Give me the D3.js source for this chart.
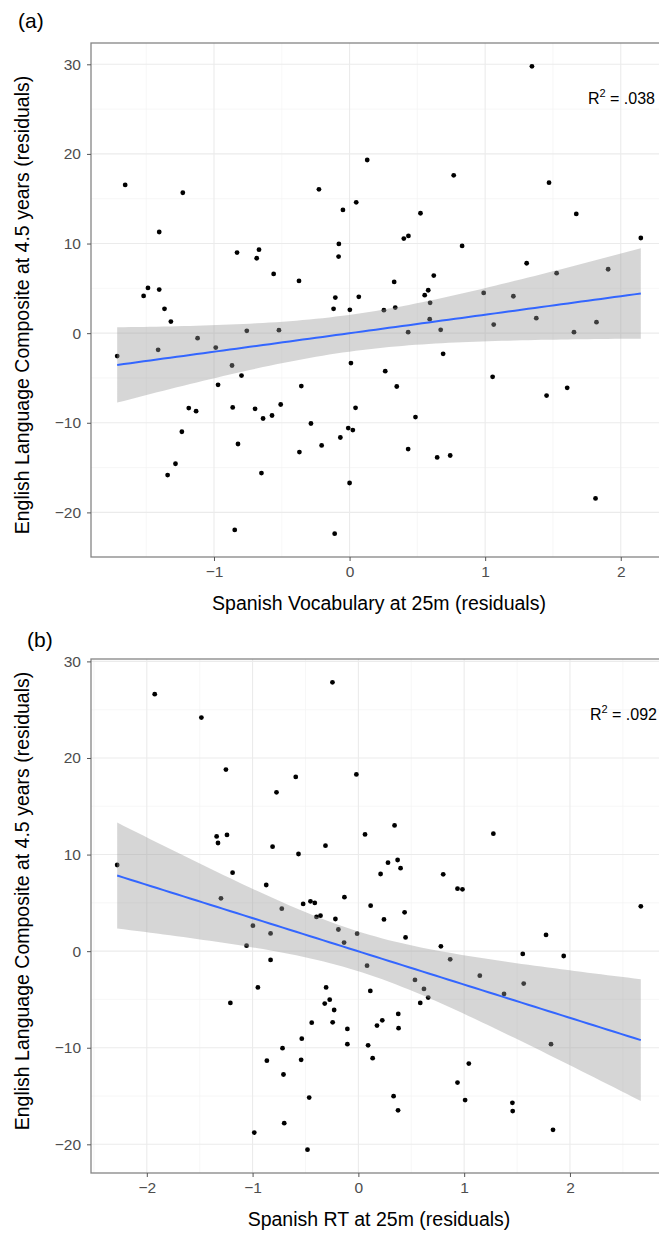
<!DOCTYPE html>
<html lang="en">
<head>
<meta charset="utf-8">
<title>Residual scatterplots</title>
<script src="https://cdn.jsdelivr.net/npm/d3@7"></script>
<style>
body { margin: 0; background: #fff; }
svg { display: block; font-family: "Liberation Sans", Arial, sans-serif; }
.grid-major { stroke: #ebebeb; stroke-width: 1.1; }
.grid-minor { stroke: #f3f3f3; stroke-width: 0.7; }
.axis text { fill: #4d4d4d; font-size: 15.5px; }
.axis line { stroke: #555; }
.axis path { display: none; }
.title { font-size: 19.5px; fill: #000; }
</style>
</head>
<body>
<script>
// panel (a): Spanish vocabulary residuals vs English composite residuals
var vocabX = [-1.655, -1.230, -1.404, -0.830, -0.668, -0.685, -0.560, -0.373, -0.226, -1.487,
    -1.404, -1.519, 1.345, 0.130, 0.768, 1.471, 0.049, -0.049, 0.523, 1.672,
    0.400, 0.434, -0.079, 0.830, 2.148, -0.081, 0.329, 0.621, 1.306, 1.527,
    1.907, 0.580, 0.554, 0.989, 1.208, -0.105, 0.068, -1.365, -1.318, -1.714,
    -1.412, -1.121, -0.987, -0.758, -0.521, -0.867, -0.797, -0.970, -0.356, -1.186,
    -1.132, -0.862, -0.697, -0.638, -0.572, -0.508, -0.285, -1.237, -0.823, -1.284,
    -1.342, -0.650, -0.370, -0.206, -0.847, -0.118, 0.002, 0.253, 0.337, 0.594,
    0.591, 0.432, 0.672, 1.063, 1.377, 1.655, 1.821, 0.690, 0.010, 0.263,
    0.348, 1.055, 1.453, 1.605, 0.044, 0.486, -0.010, 0.024, -0.068, 0.432,
    0.646, 0.742, 0.000, 1.814, -0.110];
var vocabY = [16.54, 15.67, 11.29, 8.99, 9.32, 8.36, 6.61, 5.83, 16.05, 5.05,
    4.86, 4.16, 29.77, 19.32, 17.61, 16.79, 14.60, 13.75, 13.38, 13.30,
    10.55, 10.85, 9.96, 9.73, 10.62, 8.54, 5.72, 6.42, 7.80, 6.69,
    7.13, 4.79, 4.24, 4.49, 4.12, 3.97, 4.05, 2.71, 1.29, -2.56,
    -1.86, -0.56, -1.61, 0.26, 0.33, -3.61, -4.73, -5.76, -5.91, -8.36,
    -8.70, -8.29, -8.44, -9.52, -9.19, -7.96, -10.08, -11.00, -12.37, -14.57,
    -15.83, -15.61, -13.27, -12.53, -21.96, 2.71, 2.60, 2.56, 2.85, 3.38,
    1.56, 0.11, 0.37, 0.96, 1.67, 0.11, 1.23, -2.31, -3.34, -4.24,
    -5.95, -4.87, -6.96, -6.10, -8.33, -9.36, -10.59, -10.81, -11.64, -12.93,
    -13.87, -13.65, -16.72, -18.44, -22.37];

// panel (b): Spanish RT residuals vs English composite residuals
var rtX = [-1.925, -1.484, -1.252, -0.592, -0.774, -1.340, -1.327, -1.242, -0.811, -0.566,
    -0.311, -2.280, -1.189, -0.871, -1.299, -0.522, -0.453, -0.412, -0.724, -0.245,
    -0.019, 0.342, 0.063, 1.276, 0.280, 0.371, 0.399, 0.210, 0.802, 0.937,
    0.984, -0.132, 0.116, 2.670, -0.997, -0.830, -0.396, -0.358, -1.057, -0.830,
    -0.950, -1.210, -0.305, -0.318, -0.271, -0.441, -0.535, -0.717, -0.865, -0.541,
    -0.708, -0.465, -0.701, -0.984, -0.481, -0.217, 0.242, 0.437, -0.189, -0.012,
    -0.135, 0.446, 0.082, 0.780, 0.868, 1.774, 1.554, 1.941, 1.148, 0.535,
    0.620, 0.660, 0.585, 1.377, 1.563, 0.113, -0.229, -0.243, -0.104, -0.104,
    0.377, 0.226, 0.176, 0.380, 0.092, 0.135, 1.821, 1.044, 0.937, 0.333,
    0.375, 1.009, 1.456, 1.459, 1.840];
var rtY = [26.61, 24.18, 18.80, 18.04, 16.44, 11.88, 11.20, 12.03, 10.82, 10.06,
    10.92, 8.92, 8.13, 6.85, 5.47, 4.89, 5.16, 4.99, 4.40, 27.83,
    18.30, 13.02, 12.09, 12.16, 9.16, 9.44, 8.59, 7.99, 7.95, 6.47,
    6.40, 5.59, 4.71, 4.64, 2.64, 1.84, 3.54, 3.67, 0.57, -0.91,
    -3.75, -5.36, -3.75, -5.43, -5.02, -7.40, -9.06, -10.04, -11.34, -11.25,
    -12.77, -15.16, -17.81, -18.78, -20.55, 3.33, 3.29, 4.02, 2.24, 1.81,
    0.89, 1.42, -1.50, 0.50, -0.85, 1.68, -0.29, -0.50, -2.54, -2.98,
    -3.91, -4.81, -5.36, -4.43, -3.36, -4.12, -6.09, -7.37, -8.05, -9.63,
    -6.50, -7.16, -7.70, -7.97, -9.75, -11.08, -9.63, -11.64, -13.61, -15.01,
    -16.48, -15.42, -15.70, -16.56, -18.50];

var xTicksA = [-1, 0, 1, 2];
var xTicksB = [-2, -1, 0, 1, 2];
var yTicks = [-20, -10, 0, 10, 20, 30];
var panelLabels = ["(a)", "(b)"];
var xTitles = ["Spanish Vocabulary at 25m (residuals)", "Spanish RT at 25m (residuals)"];
var yTitle = "English Language Composite at 4.5 years (residuals)";
var r2Labels = [".038", ".092"];

var W = 659, H = 1235;
var svg = d3.select("body").append("svg")
    .attr("width", W)
    .attr("height", H);

var tCrit = 1.9858; // t(0.975, df = 93)

function fitLine(xs, ys) {
    var n = xs.length;
    var mx = d3.mean(xs), my = d3.mean(ys);
    var sxx = 0, sxy = 0;
    for (var i = 0; i < n; i++) {
        sxx += (xs[i] - mx) * (xs[i] - mx);
        sxy += (xs[i] - mx) * (ys[i] - my);
    }
    var b = sxy / sxx, a = my - b * mx;
    var sse = 0;
    for (var j = 0; j < n; j++) {
        var r = ys[j] - (a + b * xs[j]);
        sse += r * r;
    }
    var s = Math.sqrt(sse / (n - 2));
    return {a: a, b: b, s: s, n: n, mx: mx, sxx: sxx};
}

function drawPanel(cfg) {
    var xs = cfg.xs, ys = cfg.ys;
    var xe = d3.extent(xs), ye = d3.extent(ys);
    var xp = (xe[1] - xe[0]) * 0.05, yp = (ye[1] - ye[0]) * 0.05;

    var x = d3.scaleLinear().domain([xe[0] - xp, xe[1] + xp]).range([cfg.left, cfg.right]);
    var y = d3.scaleLinear().domain([ye[0] - yp, ye[1] + yp]).range([cfg.bottom, cfg.top]);

    var g = svg.append("g");

    // grid lines
    var xMinor = cfg.xTicks.map(d => d - 0.5).concat([cfg.xTicks[cfg.xTicks.length - 1] + 0.5])
        .filter(d => d > x.domain()[0] && d < x.domain()[1]);
    var yMinor = yTicks.map(d => d - 5).concat([yTicks[yTicks.length - 1] + 5])
        .filter(d => d > y.domain()[0] && d < y.domain()[1]);

    g.selectAll(".gx2").data(xMinor).enter().append("line")
        .attr("class", "grid-minor")
        .attr("x1", d => x(d)).attr("x2", d => x(d))
        .attr("y1", cfg.top).attr("y2", cfg.bottom);
    g.selectAll(".gy2").data(yMinor).enter().append("line")
        .attr("class", "grid-minor")
        .attr("x1", cfg.left).attr("x2", cfg.right)
        .attr("y1", d => y(d)).attr("y2", d => y(d));
    g.selectAll(".gx").data(cfg.xTicks).enter().append("line")
        .attr("class", "grid-major")
        .attr("x1", d => x(d)).attr("x2", d => x(d))
        .attr("y1", cfg.top).attr("y2", cfg.bottom);
    g.selectAll(".gy").data(yTicks).enter().append("line")
        .attr("class", "grid-major")
        .attr("x1", cfg.left).attr("x2", cfg.right)
        .attr("y1", d => y(d)).attr("y2", d => y(d));

    // points
    g.selectAll(".pt").data(xs).enter().append("circle")
        .attr("cx", d => x(d))
        .attr("cy", (d, i) => y(ys[i]))
        .attr("r", 2.4)
        .attr("fill", "#000");

    // lm fit with 95% band (drawn over the points, like geom_smooth)
    var fit = fitLine(xs, ys);
    var grid = d3.range(80).map(i => xe[0] + i * (xe[1] - xe[0]) / 79);
    var band = grid.map(function(v) {
        var yhat = fit.a + fit.b * v;
        var se = fit.s * Math.sqrt(1 / fit.n + (v - fit.mx) * (v - fit.mx) / fit.sxx);
        return {x: v, y: yhat, lo: yhat - tCrit * se, hi: yhat + tCrit * se};
    });

    g.append("path")
        .datum(band)
        .attr("fill", "#999999")
        .attr("fill-opacity", 0.4)
        .attr("d", d3.area().x(d => x(d.x)).y0(d => y(d.lo)).y1(d => y(d.hi)));

    g.append("path")
        .datum(band)
        .attr("fill", "none")
        .attr("stroke", "#3366FF")
        .attr("stroke-width", 2)
        .attr("d", d3.line().x(d => x(d.x)).y(d => y(d.y)));

    // panel border
    g.append("rect")
        .attr("x", cfg.left).attr("y", cfg.top)
        .attr("width", cfg.right - cfg.left).attr("height", cfg.bottom - cfg.top)
        .attr("fill", "none")
        .attr("stroke", "#858585")
        .attr("stroke-width", 1.3);

    // axes
    g.append("g")
        .attr("class", "axis")
        .attr("transform", "translate(0," + cfg.bottom + ")")
        .call(d3.axisBottom(x).tickValues(cfg.xTicks).tickSize(4).tickPadding(5)
            .tickFormat(d => d < 0 ? "\u2212" + Math.abs(d) : d));
    g.append("g")
        .attr("class", "axis")
        .attr("transform", "translate(" + cfg.left + ",0)")
        .call(d3.axisLeft(y).tickValues(yTicks).tickSize(4).tickPadding(6)
            .tickFormat(d => d < 0 ? "\u2212" + Math.abs(d) : d));

    // titles
    g.append("text")
        .attr("class", "title")
        .attr("x", (cfg.left + cfg.right) / 2)
        .attr("y", cfg.bottom + 53)
        .attr("text-anchor", "middle")
        .text(cfg.xTitle);
    g.append("text")
        .attr("class", "title")
        .attr("transform", "translate(29," + cfg.yTitleMid + ") rotate(-90)")
        .attr("text-anchor", "middle")
        .text(yTitle);
    g.append("text")
        .attr("x", cfg.labelX).attr("y", cfg.labelY)
        .style("font-size", "21px")
        .text(cfg.label);

    // R squared
    var r2 = g.append("text")
        .attr("x", cfg.r2X).attr("y", cfg.top + 61)
        .attr("text-anchor", "end")
        .style("font-size", "16px");
    r2.append("tspan").text("R");
    r2.append("tspan").attr("dy", -7).style("font-size", "11px").text("2");
    r2.append("tspan").attr("dy", 7).text(" = " + cfg.r2);
}

drawPanel({xs: vocabX, ys: vocabY, xTicks: xTicksA, left: 91, right: 667, top: 43, bottom: 557,
    yTitleMid: 305, xTitle: xTitles[0], label: panelLabels[0], labelX: 18, labelY: 28,
    r2: r2Labels[0], r2X: 655});
drawPanel({xs: rtX, ys: rtY, xTicks: xTicksB, left: 91, right: 667, top: 659, bottom: 1173,
    yTitleMid: 901, xTitle: xTitles[1], label: panelLabels[1], labelX: 27, labelY: 647,
    r2: r2Labels[1], r2X: 657});
</script>
</body>
</html>
